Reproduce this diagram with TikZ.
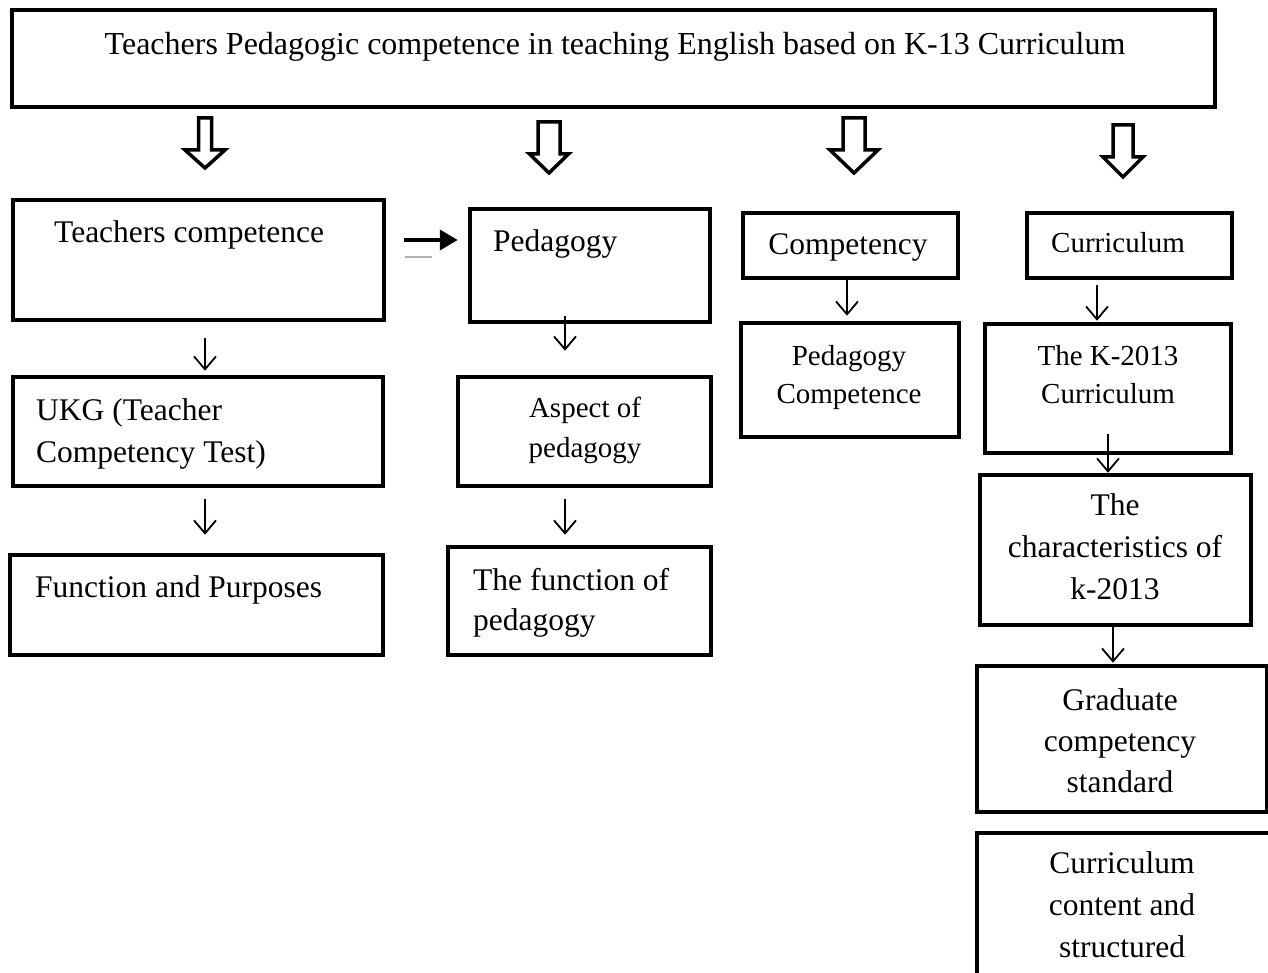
\documentclass[tikz,border=0pt]{standalone}
\usepackage{fontspec}
\setmainfont{Liberation Serif}
\usetikzlibrary{arrows.meta}
\begin{document}
\begin{tikzpicture}[x=1pt,y=-1pt,
  box/.style={draw, line width=4.5pt, inner sep=0pt, line join=miter},
  lbl/.style={inner sep=0pt, font=\fontsize{31.5}{42}\selectfont},
  lbls/.style={inner sep=0pt, font=\fontsize{29}{38.5}\selectfont},
  conn/.style={line width=1.8pt, -{Straight Barb[length=13pt,width=22pt,line width=1.8pt]}},
  bigarr/.style={line width=4pt, -{Triangle[length=18pt,width=20pt]}},
  blockarr/.style={draw, fill=white, line width=3.5pt, line join=miter}
]
\clip (0,0) rectangle (1268,973);
\fill[white] (0,0) rectangle (1268,973);

% boxes
\node[box, minimum width=1203pt, minimum height=97pt] (title) at (613.5,58.5) {};
\node[box, minimum width=371pt, minimum height=120pt] (tc) at (198.5,260) {};
\node[box, minimum width=370pt, minimum height=109pt] (ukg) at (198,431.5) {};
\node[box, minimum width=373pt, minimum height=100pt] (fp) at (196.5,605) {};
\node[box, minimum width=240pt, minimum height=113pt] (ped) at (590,265.5) {};
\node[box, minimum width=253pt, minimum height=109pt] (asp) at (584.5,431.5) {};
\node[box, minimum width=263pt, minimum height=108pt] (fop) at (579.5,601) {};
\node[box, minimum width=215pt, minimum height=65pt] (comp) at (850.5,245.5) {};
\node[box, minimum width=218pt, minimum height=114pt] (pc) at (850,380) {};
\node[box, minimum width=205pt, minimum height=65pt] (cur) at (1129.5,245.5) {};
\node[box, minimum width=246pt, minimum height=129pt] (k13) at (1108,388.5) {};
\node[box, minimum width=271pt, minimum height=150pt] (char) at (1115.5,550) {};
\node[box, minimum width=290pt, minimum height=146pt] (grad) at (1122,739) {};
\node[box, minimum width=308pt, minimum height=180pt] (ccs) at (1131,923) {};

% texts (multi-line nodes: base = baseline of last line)
\node[lbl, anchor=base, font=\fontsize{32}{42}\selectfont] (titlet) at (615,55) {Teachers Pedagogic competence in teaching English based on K-13 Curriculum};
\node[lbl, anchor=base west] (tct) at (54,243) {Teachers competence};
\node[lbl, anchor=base west, align=left] (ukgt) at (36,462) {UKG (Teacher\\Competency Test)};
\node[lbl, anchor=base west] (fpt) at (35,597) {Function and Purposes};
\node[lbl, anchor=base west] (pedt) at (493,252) {Pedagogy};
\node[lbls, anchor=base, align=center, font=\fontsize{29}{40}\selectfont] (aspt) at (585,457) {Aspect of\\pedagogy};
\node[lbl, anchor=base west, align=left, font=\fontsize{31.5}{40}\selectfont] (fopt) at (473,630) {The function of\\pedagogy};
\node[lbl, anchor=base] (compt) at (848,255) {Competency};
\node[lbls, anchor=base] (curt) at (1118,253) {Curriculum};
\node[lbls, anchor=base, align=center, font=\fontsize{29}{38}\selectfont] (pct) at (849,403) {Pedagogy\\Competence};
\node[lbls, anchor=base, align=center, font=\fontsize{29}{38}\selectfont] (k13t) at (1108,403) {The K-2013\\Curriculum};
\node[lbl, anchor=base, align=center] (chart) at (1115,599) {The\\characteristics of\\k-2013};
\node[lbl, anchor=base, align=center, font=\fontsize{31.5}{41}\selectfont] (gradt) at (1120,792) {Graduate\\competency\\standard};
\node[lbl, anchor=base, align=center] (ccst) at (1122,957) {Curriculum\\content and\\structured};

% block arrows
\foreach \x/\y/\s/\h/\l in {205/118/6.5/20/50, 549/122/11/19.5/51, 854/118/11/24/55, 1123/125/10/20/52}{
  \draw[blockarr] ({\x-\s},\y) -- ({\x+\s},\y) -- ({\x+\s},{\y+32}) -- ({\x+\h},{\y+32})
    -- (\x,{\y+\l}) -- ({\x-\h},{\y+32}) -- ({\x-\s},{\y+32}) -- cycle;
}

% thick right arrow with its grey shadow
\draw[gray!60, line width=2.5pt] ([xshift=19pt,yshift=3pt]tc.east) -- ([xshift=46pt,yshift=3pt]tc.east);
\draw[bigarr] ([xshift=18pt,yshift=20pt]tc.east) -- ([xshift=-10pt,yshift=25.5pt]ped.west);

% thin arrows
\draw[conn] ([xshift=6.5pt,yshift=-16pt]tc.south) -- ([xshift=7pt,yshift=4pt]ukg.north);
\draw[conn] ([xshift=7pt,yshift=-11pt]ukg.south) -- ([xshift=8.5pt,yshift=18pt]fp.north);
\draw[conn] ([xshift=-25pt,yshift=8pt]ped.south) -- ([xshift=-19.5pt,yshift=24pt]asp.north);
\draw[conn] ([xshift=-19.5pt,yshift=-11pt]asp.south) -- ([xshift=-14.5pt,yshift=10pt]fop.north);
\draw[conn] ([xshift=-3.5pt]comp.south) -- ([xshift=-3pt,yshift=5pt]pc.north);
\draw[conn] ([xshift=-32.5pt,yshift=-5pt]cur.south) -- ([xshift=-11pt,yshift=1pt]k13.north);
\draw[conn] ([yshift=21pt]k13.south) -- ([xshift=-7.5pt]char.north);
\draw[conn] ([xshift=-2.5pt]char.south) -- ([xshift=-9pt,yshift=1pt]grad.north);
\end{tikzpicture}
\end{document}
